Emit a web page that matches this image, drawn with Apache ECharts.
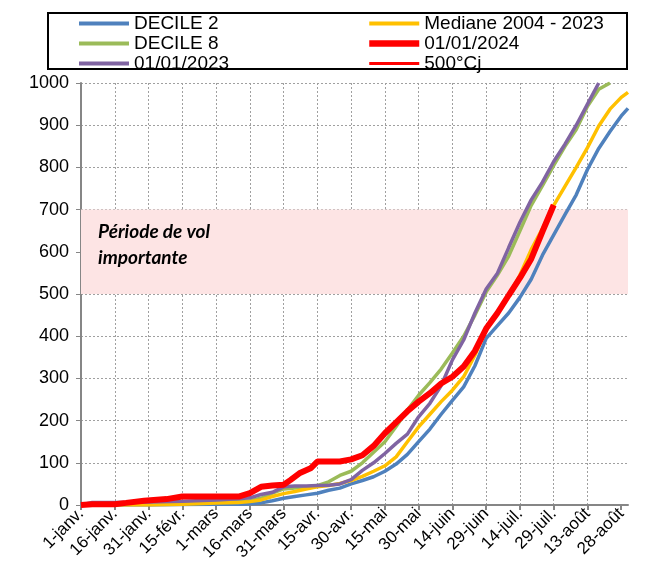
<!DOCTYPE html>
<html>
<head>
<meta charset="utf-8">
<script src="https://cdn.jsdelivr.net/npm/echarts@6/dist/echarts.min.js"></script>
<style>
html,body{margin:0;padding:0;background:#fff;}
#chart{width:648px;height:572px;}
</style>
</head>
<body>
<div id="chart"></div>
<script>
// Day index since 1 January (2024 calendar), tick every 15 days
const tickLabels = ['1-janv.','16-janv.','31-janv.','15-févr.','1-mars','16-mars','31-mars','15-avr.','30-avr.','15-mai','30-mai','14-juin','29-juin','14-juil.','29-juil.','13-août','28-août'];

const days = [0,5,15,30,45,60,70,75,80,85,90,95,100,105,110,115,120,125,130,135,140,145,150,155,160,165,170,175,180,185,190,195,200,205,210,215,220,225,230,235,240,243];

const decile2 = [0,0,0,0,1,2,2,3,5,10,16,20,24,28,35,40,50,58,67,80,97,120,150,180,215,248,280,330,395,425,455,492,535,592,640,688,735,795,845,885,922,940];
const mediane = [0,0,0,0,2,5,6,8,12,20,27,32,38,43,46,51,58,68,80,93,114,150,185,215,245,272,304,355,415,455,497,545,605,655,710,755,800,847,898,938,966,978];
const decile8 = [0,2,3,5,6,7,8,10,16,28,38,40,42,46,55,70,80,100,125,150,186,225,260,290,322,360,400,450,505,545,590,650,710,757,805,850,890,945,985,1010,null,null];
const annee2023 = [0,6,6,7,9,12,15,17,25,30,43,45,45,46,47,50,60,82,100,122,146,168,209,241,283,344,391,455,512,549,610,670,723,765,814,855,900,950,1005,null,null,null];

const days2024 = [0,5,15,20,28,38,45,60,70,75,80,85,90,93,97,102,105,110,115,120,125,130,135,140,145,150,155,160,165,170,175,180,185,190,195,200,205,210];
const annee2024 = [0,2,2,5,10,14,20,20,20,28,43,46,48,59,75,87,103,103,103,108,118,140,170,196,222,245,265,288,304,328,365,418,455,497,538,583,648,711];

const bandLow = 500, bandHigh = 700;

function pairs(xs, ys){ const out=[]; for(let i=0;i<xs.length;i++){ if(ys[i]!==null) out.push([xs[i], Math.min(ys[i],1000)]); } return out; }

const chart = echarts.init(document.getElementById('chart'));
const FONT = '"Liberation Sans", Arial, sans-serif';
const tickValues = tickLabels.map(function(_, i){ return i * 15; });

const grid = '#a0a0a0';
const legendText = {fontFamily:FONT, fontSize:19, color:'#000', lineHeight:19};
chart.setOption({
  animation:false,
  backgroundColor:'#fff',
  grid:{left:81, right:20, top:83, bottom:67, containLabel:false},
  legend:[
    {data:[{name:'DECILE 2', lineStyle:{width:4}},{name:'DECILE 8', lineStyle:{width:4}},{name:'01/01/2023', lineStyle:{width:4}}],
     orient:'vertical', left:77, top:14, padding:0, itemWidth:50, itemHeight:14, itemGap:1,
     itemStyle:{opacity:0}, textStyle:legendText},
    {data:[{name:'Mediane 2004 - 2023', lineStyle:{width:4}},{name:'01/01/2024', lineStyle:{width:6.5}},{name:'500°Cj', lineStyle:{width:3}}],
     orient:'vertical', left:366, top:14, padding:0, itemWidth:50, itemHeight:14, itemGap:1,
     itemStyle:{opacity:0}, textStyle:legendText}
  ],
  graphic:[
    {type:'rect', z:100, shape:{x:48, y:13, width:579, height:56}, style:{fill:'none', stroke:'#000', lineWidth:2}},
    {type:'text', z:100, left:98, top:222, style:{text:'Période de vol', font:'italic bold 19px Lato, "Open Sans", sans-serif', fill:'#000'}},
    {type:'text', z:100, left:98, top:248, style:{text:'importante', font:'italic bold 19px Lato, "Open Sans", sans-serif', fill:'#000'}}
  ],
  xAxis:{
    type:'value', min:0, max:243, interval:15,
    axisLine:{lineStyle:{color:'#868686', width:2}},
    axisTick:{show:true, length:5, customValues:tickValues, lineStyle:{color:'#868686', width:2}},
    splitLine:{show:true, showMaxLine:false, lineStyle:{color:grid, type:[2,2], width:1}},
    axisLabel:{rotate:45, fontFamily:FONT, fontSize:17, color:'#000', margin:6, customValues:tickValues,
      formatter:function(v){ const i=Math.round(v/15); return (v%15===0 && tickLabels[i]!==undefined)? tickLabels[i] : ''; }}
  },
  yAxis:{
    type:'value', min:0, max:1000, interval:100,
    axisLine:{show:true, lineStyle:{color:'#868686', width:2}},
    axisTick:{show:true, length:5, lineStyle:{color:'#868686', width:1}},
    splitLine:{show:true, lineStyle:{color:grid, type:[2,2], width:1}},
    axisLabel:{fontFamily:FONT, fontSize:18, color:'#000', margin:12, formatter:function(v){return String(v);}}
  },
  series:[
    {name:'DECILE 2', type:'line', data:pairs(days,decile2), symbol:'none', color:'#4F81BD', lineStyle:{width:3.5}, z:2,
     markArea:{silent:true, itemStyle:{color:'#fde4e4'}, data:[[{yAxis:bandLow},{yAxis:bandHigh}]]}},
    {name:'DECILE 8', type:'line', data:pairs(days,decile8), symbol:'none', color:'#9BBB59', lineStyle:{width:3.5}, z:3},
    {name:'Mediane 2004 - 2023', type:'line', data:pairs(days,mediane), symbol:'none', color:'#FFC000', lineStyle:{width:3.5}, z:3},
    {name:'01/01/2023', type:'line', data:pairs(days,annee2023), symbol:'none', color:'#8064A2', lineStyle:{width:3.5}, z:4},
    {name:'01/01/2024', type:'line', data:pairs(days2024,annee2024), symbol:'none', color:'#FF0000', lineStyle:{width:6}, z:5},
    {name:'500°Cj', type:'line', data:[], symbol:'none', color:'#FF0000', lineStyle:{width:3}, z:5}
  ]
});
</script>
</body>
</html>
